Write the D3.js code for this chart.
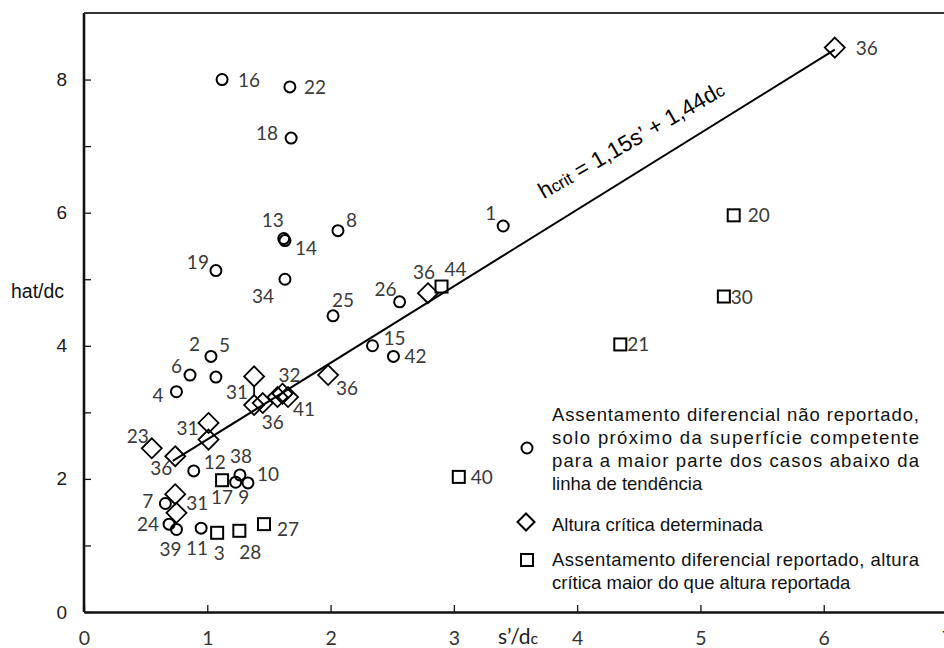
<!DOCTYPE html>
<html>
<head>
<meta charset="utf-8">
<script src="https://cdn.jsdelivr.net/npm/d3@7"></script>
<style>
  body { margin: 0; background: #fff; }
  svg { display: block; }
</style>
</head>
<body>
<script>
// values (s'/dc , hat/dc)
const circleIds = ['16', '22', '18', '13', '14', '8', '19', '34', '25', '1', '26', '15', '42',
  '2', '5', '6', '4', '12', '38', '9', '10', '7', '24', '39', '11'];
const circleS = [1.12, 1.67, 1.68, 1.62, 1.63, 2.06, 1.07, 1.63, 2.02, 3.40, 2.56, 2.34, 2.51,
  1.03, 1.07, 0.86, 0.75, 0.89, 1.265, 1.23, 1.33, 0.66, 0.69, 0.75, 0.95];
const circleH = [8.00, 7.89, 7.12, 5.61, 5.58, 5.73, 5.13, 5.00, 4.45, 5.80, 4.66, 4.00, 3.84,
  3.84, 3.53, 3.56, 3.31, 2.12, 2.06, 1.95, 1.94, 1.63, 1.32, 1.24, 1.26];

const diamondIds = ['36', '36', '36', '31', '', '36', '', '32', '41', '31', '', '23', '36', '31', ''];
const diamondS = [6.09, 2.79, 1.98, 1.38, 1.38, 1.45, 1.57, 1.61, 1.655, 1.01, 1.01, 0.55, 0.74, 0.74, 0.75];
const diamondH = [8.48, 4.79, 3.56, 3.54, 3.11, 3.14, 3.23, 3.28, 3.23, 2.84, 2.59, 2.46, 2.34, 1.77, 1.49];
const diamondLinks = [[3, 4]]; // vertical connector between the two "31" marks

const squareIds = ['44', '20', '30', '21', '40', '17', '3', '28', '27'];
const squareS = [2.90, 5.27, 5.19, 4.35, 3.04, 1.12, 1.08, 1.26, 1.46];
const squareH = [4.89, 5.96, 4.74, 4.02, 2.03, 1.98, 1.19, 1.22, 1.32];

const trendS = [0.72, 6.09];
const trendH = [2.27, 8.45];

const xTicks = [0, 1, 2, 3, 4, 5, 6, 7];
const yTicks = [0, 1, 2, 3, 4, 5, 6, 7, 8];

// label placement (dx, dy, anchor) for each point, same order as the ids
const circleLab = [[16, 7, 's'], [14, 7, 's'], [-13, 2, 'e'], [-11, -12, 'm'], [10, 14, 's'], [8, -4, 's'],
  [-7, -2, 'e'], [-11, 24, 'e'], [-1, -9, 's'], [-7, -6, 'e'], [-3, -6, 'e'], [11, -1, 's'], [11, 7, 's'],
  [-11, -5, 'e'], [3, -25, 's'], [-8, -2, 'e'], [-13, 10, 'e'], [10, -2, 's'], [1, -12, 'm'], [8, 22, 'm'],
  [9, -2, 's'], [-12, 4, 'e'], [-10, 7, 'e'], [-6, 27, 'm'], [-4, 27, 'm']];
const diamondLab = [[21, 7, 's'], [-4, -14, 'm'], [8, 20, 's'], [-6, 23, 'e'], null, [10, 26, 'm'], null,
  [7, -12, 'm'], [5, 19, 's'], [-10, 12, 'e'], null, [-3, -5, 'e'], [-14, 19, 'm'], [11, 16, 's'], null];
const squareLab = [[3, -11, 's'], [14, 7, 's'], [7, 7, 's'], [7, 7, 's'], [12, 7, 's'], [0, 24, 'm'],
  [2, 27, 'm'], [11, 28, 'm'], [13, 12, 's']];

const anchors = {s: 'start', m: 'middle', e: 'end'};

const W = 944, H = 648;
const svg = d3.select('body').append('svg')
  .attr('width', W)
  .attr('height', H);

const x = d3.scaleLinear().domain([0, 7]).range([84, 947]);
const y = d3.scaleLinear().domain([0, 9]).range([612, 13]);

// axes
const yAxis = d3.axisLeft(y)
  .tickValues(yTicks)
  .tickSizeInner(-7)
  .tickSizeOuter(0)
  .tickPadding(17)
  .tickFormat((d) => (d % 2 === 0 ? d : ''));
const gy = svg.append('g')
  .attr('transform', `translate(${x(0)},0)`)
  .call(yAxis);
gy.select('.domain').attr('d', `M0,${y(9)}V${y(0)}`);
gy.selectAll('text')
  .attr('font-family', 'Liberation Sans, Arial, sans-serif')
  .attr('font-size', 19)
  .attr('fill', '#1a1a1a');

const xAxis = d3.axisBottom(x)
  .tickValues(xTicks)
  .tickSizeInner(-7)
  .tickSizeOuter(0)
  .tickPadding(19)
  .tickFormat((d) => d);
const gx = svg.append('g')
  .attr('transform', `translate(0,${y(0)})`)
  .call(xAxis);
gx.selectAll('text')
  .attr('font-family', 'Lato, sans-serif')
  .attr('font-size', 19.5)
  .attr('fill', '#333');

svg.selectAll('.domain')
  .attr('stroke', '#111')
  .attr('stroke-width', 2.6);
svg.selectAll('.tick line')
  .attr('stroke', '#111')
  .attr('stroke-width', 1.3);

// top frame line
svg.append('line')
  .attr('x1', x(0)).attr('x2', W)
  .attr('y1', y(9)).attr('y2', y(9))
  .attr('stroke', '#333')
  .attr('stroke-width', 2.2);

// axis titles
svg.append('text')
  .attr('x', 11).attr('y', 298)
  .attr('font-family', 'Liberation Sans, Arial, sans-serif')
  .attr('font-size', 19.5)
  .attr('fill', '#111')
  .text('hat/dc');

const xt = svg.append('text')
  .attr('x', 498).attr('y', 644)
  .attr('font-family', 'Lato, sans-serif')
  .attr('font-size', 21)
  .attr('fill', '#222');
xt.append('tspan').text('s’/d');
xt.append('tspan').attr('font-size', 16).text('c');

// trend line
const line = d3.line().x((d) => x(d[0])).y((d) => y(d[1]));
svg.append('path')
  .datum(d3.zip(trendS, trendH))
  .attr('d', line)
  .attr('fill', 'none')
  .attr('stroke', '#000')
  .attr('stroke-width', 2);

const eq = svg.append('text')
  .attr('transform', `translate(${x(3.73)},${y(6.2)}) rotate(-30)`)
  .attr('font-family', 'Liberation Sans, Arial, sans-serif')
  .attr('font-size', 22.5)
  .attr('fill', '#000');
eq.append('tspan').text('h');
eq.append('tspan').attr('font-size', 17).text('crit');
eq.append('tspan').text(' = 1,15s’ + 1,44d');
eq.append('tspan').attr('font-size', 17).text('c');

// markers
const diamondPath = (r) => `M0,${-r}L${r},0L0,${r}L${-r},0Z`;

const diamonds = d3.zip(diamondIds, diamondS, diamondH, diamondLab);
svg.append('g').selectAll('line')
  .data(diamondLinks)
  .join('line')
  .attr('x1', (d) => x(diamondS[d[0]]))
  .attr('x2', (d) => x(diamondS[d[1]]))
  .attr('y1', (d) => y(diamondH[d[0]]) + 10)
  .attr('y2', (d) => y(diamondH[d[1]]) - 10)
  .attr('stroke', '#000')
  .attr('stroke-width', 1.8);

svg.append('g').selectAll('path')
  .data(diamonds)
  .join('path')
  .attr('transform', (d) => `translate(${x(d[1])},${y(d[2])})`)
  .attr('d', diamondPath(10))
  .attr('fill', 'none')
  .attr('stroke', '#000')
  .attr('stroke-width', 1.8);

const circles = d3.zip(circleIds, circleS, circleH, circleLab);
svg.append('g').selectAll('circle')
  .data(circles)
  .join('circle')
  .attr('cx', (d) => x(d[1]))
  .attr('cy', (d) => y(d[2]))
  .attr('r', 5.5)
  .attr('fill', 'none')
  .attr('stroke', '#000')
  .attr('stroke-width', 2);

const squares = d3.zip(squareIds, squareS, squareH, squareLab);
svg.append('g').selectAll('rect')
  .data(squares)
  .join('rect')
  .attr('x', (d) => x(d[1]) - 6)
  .attr('y', (d) => y(d[2]) - 6)
  .attr('width', 12)
  .attr('height', 12)
  .attr('fill', 'none')
  .attr('stroke', '#000')
  .attr('stroke-width', 2);

// point labels
const labelled = [...circles, ...diamonds, ...squares].filter((d) => d[3]);
svg.append('g')
  .attr('font-family', 'Lato, sans-serif')
  .attr('font-size', 19)
  .attr('fill', '#3a3a3a')
  .selectAll('text')
  .data(labelled)
  .join('text')
  .attr('x', (d) => x(d[1]) + d[3][0])
  .attr('y', (d) => y(d[2]) + d[3][1])
  .attr('text-anchor', (d) => anchors[d[3][2]])
  .text((d) => d[0]);

// legend
const legend = svg.append('g')
  .attr('font-family', 'Liberation Sans, Arial, sans-serif')
  .attr('font-size', 18.5)
  .attr('fill', '#111');

legend.append('circle')
  .attr('cx', 527).attr('cy', 448).attr('r', 5.5)
  .attr('fill', 'none').attr('stroke', '#000').attr('stroke-width', 2);
legend.append('path')
  .attr('transform', 'translate(526,522)')
  .attr('d', diamondPath(8.5))
  .attr('fill', 'none').attr('stroke', '#000').attr('stroke-width', 2);
legend.append('rect')
  .attr('x', 521).attr('y', 554).attr('width', 12).attr('height', 12)
  .attr('fill', 'none').attr('stroke', '#000').attr('stroke-width', 2);

const legendLines = [
  ['Assentamento diferencial não reportado,', 421, true],
  ['solo próximo da superfície competente', 444, true],
  ['para a maior parte dos casos abaixo da', 467, true],
  ['linha de tendência', 490, false],
  ['Altura crítica determinada', 531, false],
  ['Assentamento diferencial reportado, altura', 566, true],
  ['crítica maior do que altura reportada', 589, false]
];
legend.selectAll('text')
  .data(legendLines)
  .join('text')
  .attr('x', 552)
  .attr('y', (d) => d[1])
  .attr('textLength', (d) => (d[2] ? 367 : null))
  .attr('lengthAdjust', 'spacing')
  .text((d) => d[0]);
</script>
</body>
</html>
